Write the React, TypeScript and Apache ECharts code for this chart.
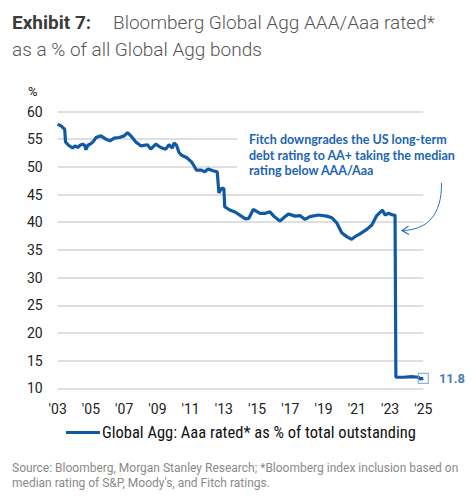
import React, { useEffect, useRef } from "react";
import * as echarts from "echarts";

// decimal years and % values
const dates: number[] = [
  2003.0, 2003.2, 2003.42, 2003.47, 2003.65, 2003.9, 2004.05, 2004.2, 2004.35, 2004.5,
  2004.62, 2004.7, 2004.82, 2005.0, 2005.15, 2005.3, 2005.6, 2005.9, 2006.15, 2006.4,
  2006.7, 2007.0, 2007.2, 2007.4, 2007.7, 2008.0, 2008.4, 2008.6, 2008.9, 2009.2,
  2009.5, 2009.7, 2009.9, 2010.0, 2010.15, 2010.3, 2010.45, 2010.75, 2011.05, 2011.2,
  2011.35, 2011.65, 2011.85, 2012.05, 2012.35, 2012.6, 2012.7, 2012.85, 2013.0, 2013.05,
  2013.35, 2013.7, 2014.0, 2014.3, 2014.5, 2014.77, 2015.17, 2015.5, 2015.77, 2016.0,
  2016.37, 2016.67, 2016.9, 2017.28, 2017.58, 2017.88, 2018.18, 2018.68, 2019.19, 2019.5,
  2019.79, 2020.09, 2020.39, 2020.69, 2020.89, 2021.19, 2021.6, 2021.9, 2022.2, 2022.54,
  2022.7, 2022.9, 2023.16, 2023.3, 2023.35, 2023.8, 2024.3, 2024.7, 2024.8, 2025.0,
];
const values: number[] = [
  57.7, 57.4, 56.8, 54.5, 53.9, 53.4, 53.8, 53.5, 53.9, 54.1,
  53.9, 53.1, 53.9, 54.2, 54.6, 55.3, 55.6, 55.0, 54.7, 55.2,
  55.3, 55.6, 56.2, 55.6, 54.5, 53.8, 54.0, 53.2, 54.1, 53.5,
  53.2, 54.0, 53.4, 54.3, 53.9, 52.6, 52.1, 51.7, 50.9, 50.2,
  49.4, 49.4, 49.1, 49.6, 49.3, 49.1, 45.3, 46.1, 46.1, 42.8,
  42.2, 41.8, 41.2, 40.6, 40.7, 42.3, 41.6, 41.6, 41.9, 41.1,
  40.2, 41.0, 41.5, 41.1, 41.2, 40.5, 41.0, 41.3, 41.1, 40.8,
  39.9, 38.1, 37.4, 36.9, 37.4, 37.9, 38.7, 39.5, 41.2, 42.2,
  41.3, 41.6, 41.3, 41.3, 12.0, 12.0, 12.1, 12.0, 11.7, 11.8,
];
const lastLabel = "11.8";
const startYear = 2003;
const endYear = 2025;
const seriesName = "Global Agg: Aaa rated* as % of total outstanding";

const BLUE = "#1059a5";

export default function App() {
  const ref = useRef<HTMLDivElement>(null);
  useEffect(() => {
    const chart = echarts.init(ref.current!, undefined, { renderer: "svg" });
    const lineData = dates.map((d, i) => [d - startYear, values[i]]);
    const last = lineData[lineData.length - 1];
    chart.setOption({
      animation: false,
      grid: { left: 57.7, right: 49.7, top: 111.5, bottom: 111.7 },
      xAxis: {
        type: "value",
        min: 0,
        max: endYear - startYear,
        interval: 2,
        axisLine: { show: false },
        axisTick: { show: false },
        splitLine: { show: false },
        axisLabel: {
          fontFamily: "Roboto",
          fontSize: 14,
          color: "#222",
          margin: 14,
          formatter: (v: number) => "'" + String((v + startYear) % 100).padStart(2, "0"),
        },
      },
      yAxis: {
        type: "value",
        min: 10,
        max: 60,
        interval: 5,
        axisLine: { show: false },
        axisTick: { show: false },
        splitLine: { lineStyle: { color: "#d4d4d4", width: 1.5 } },
        axisLabel: { fontFamily: "Roboto", fontSize: 14, color: "#222", margin: 15 },
      },
      legend: {
        data: [seriesName],
        left: 66,
        top: 424,
        padding: 0,
        itemWidth: 34,
        itemHeight: 3,
        icon: "rect",
        itemGap: 0,
        textStyle: {
          fontFamily: "'Liberation Sans Narrow', 'Roboto Condensed', Roboto",
          fontSize: 16.5,
          color: "#111",
          padding: [0, 0, 0, -3],
        },
      },
      series: [
        {
          name: seriesName,
          type: "line",
          data: lineData,
          showSymbol: false,
          lineStyle: { color: BLUE, width: 3.2 },
          itemStyle: { color: BLUE },
        },
        {
          type: "scatter",
          data: [last],
          symbol: "rect",
          symbolSize: 10,
          itemStyle: { color: "rgba(255,255,255,0)", borderColor: "#6fa0d2", borderWidth: 1.2 },
          label: {
            show: true,
            position: "right",
            distance: 10,
            formatter: () => lastLabel,
            fontFamily: "Roboto",
            fontWeight: "bold",
            fontSize: 13,
            color: BLUE,
          },
          z: 5,
        },
      ],
      graphic: [
        {
          type: "text",
          left: 12,
          top: 13,
          style: { text: "Exhibit 7:", font: "bold 19px Roboto", fill: "#3b3b3b" },
        },
        {
          type: "text",
          left: 113,
          top: 13,
          style: { text: "Bloomberg Global Agg AAA/Aaa rated*", font: "300 19px Roboto", fill: "#555" },
        },
        {
          type: "text",
          left: 12,
          top: 40,
          style: { text: "as a % of all Global Agg bonds", font: "300 19px Roboto", fill: "#555" },
        },
        {
          type: "text",
          left: 28,
          top: 85,
          style: { text: "%", font: "13px Roboto", fill: "#222" },
        },
        {
          type: "rect",
          shape: { x: 237, y: 127, width: 236, height: 55 },
          style: { fill: "#fff" },
          z: 10,
        },
        {
          type: "text",
          left: 249,
          top: 132,
          z: 11,
          style: {
            text: "Fitch downgrades the US long-term\ndebt rating to AA+ taking the median\nrating below AAA/Aaa",
            font: "bold 12.5px Lato",
            lineHeight: 15.5,
            fill: "#1b64b4",
          },
        },
        {
          type: "bezierCurve",
          shape: { x1: 441.5, y1: 183, cpx1: 442, cpy1: 216, cpx2: 426, cpy2: 230, x2: 402.5, y2: 230.5 },
          style: { stroke: "#2f6fb8", lineWidth: 1, fill: "none" },
        },
        {
          type: "polyline",
          shape: { points: [[408.5, 226], [402, 230.6], [409, 234.5]] },
          style: { stroke: "#2f6fb8", lineWidth: 1.2, fill: "none" },
        },
        {
          type: "text",
          left: 12,
          top: 460,
          style: {
            text: "Source: Bloomberg, Morgan Stanley Research; *Bloomberg index inclusion based on\nmedian rating of S&P, Moody's, and Fitch ratings.",
            font: "12px Roboto",
            lineHeight: 15,
            fill: "#8a8a8a",
          },
        },
      ],
    });
    return () => chart.dispose();
  }, []);
  return (
    <div
      ref={ref}
      style={{ position: "fixed", left: 0, top: 0, width: 473, height: 500, background: "#fff" }}
    />
  );
}
